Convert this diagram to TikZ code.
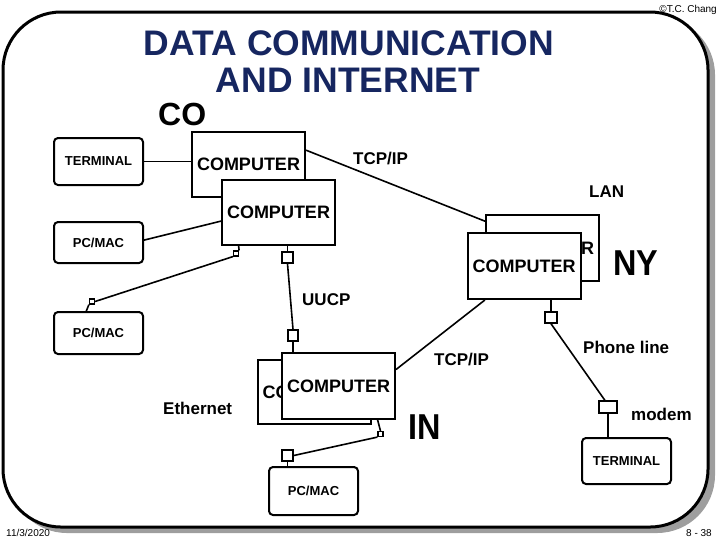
\documentclass[tikz,border=0pt]{standalone}
\usepackage{fontspec}
\setmainfont{Liberation Sans}
\usetikzlibrary{calc}
\definecolor{titleblue}{RGB}{22,38,96}
\tikzset{
	comp/.style={draw, fill=white, line width=2pt, minimum width=113pt, minimum height=65pt, inner sep=0pt, font=\fontsize{18}{20}\selectfont\bfseries},
	termbox/.style={draw, fill=white, rounded corners=4pt, line width=2pt, minimum width=89pt, inner sep=0pt, font=\fontsize{13}{15}\selectfont\bfseries},
	port/.style={draw, fill=white, line width=1.5pt, inner sep=0pt},
	lbl/.style={anchor=base west, inner sep=0pt, font=\fontsize{17}{19}\selectfont\bfseries},
	city/.style={anchor=base west, inner sep=0pt, font=\fontsize{36}{38}\selectfont\bfseries},
	wire/.style={line width=1.6pt},
	tinytext/.style={inner sep=0pt, font=\fontsize{10}{12}\selectfont}
}

\begin{document}
\begin{tikzpicture}[x=1pt, y=-1pt]
	%%%%% START %%%%%
	\useasboundingbox (0,0) rectangle (719,539);
	
	% frame with shadow
	\fill[black!38, rounded corners=58pt] (9,17) rectangle (715,533);
	\draw[line width=3pt, fill=white, rounded corners=58pt] (3,12) rectangle (708,527);
	
	\node[tinytext, anchor=base east] (copy) at (717,12) {\textcopyright T.C. Chang};
	\node[tinytext, anchor=base west] (date) at (6,536) {11/3/2020};
	\node[tinytext, anchor=base east] (page) at (712,536) {8 - 38};
	
	\node[anchor=base, inner sep=0pt, text=titleblue, font=\fontsize{35.5}{36}\selectfont\bfseries] (title1) at (349,55) {DATA COMMUNICATION};
	\node[anchor=base, inner sep=0pt, text=titleblue, font=\fontsize{35.5}{36}\selectfont\bfseries] (title2) at (348,92) {AND INTERNET};
	
	% CO site
	\node[anchor=base west, inner sep=0pt, font=\fontsize{32}{34}\selectfont\bfseries] (co) at (158,125) {CO};
	\node[termbox, minimum height=47pt] (terma) at (98.5,161.5) {TERMINAL};
	\node[comp] (coA) at (248.5,164.5) {COMPUTER};
	\node[comp] (coB) at (278.5,212) {COMPUTER};
	\node[termbox, minimum height=41pt] (pca) at (98.5,242.5) {PC/MAC};
	\node[termbox, minimum height=42pt] (pcb) at (98.5,333) {PC/MAC};
	
	% NY site
	\node[comp, minimum height=66pt] (nyA) at (542.5,248) {COMPUTER};
	\node[comp, minimum height=66pt] (nyB) at (524,266) {COMPUTER};
	\node[city] (ny) at (613,275) {\scalebox{0.9}[1]{NY}};
	
	% IN site
	\node[comp, minimum height=64pt] (inA) at (314,392) {COMPUTER};
	\node[comp, minimum height=66pt] (inB) at (338.5,386) {COMPUTER};
	\node[city] (in) at (408,439) {\scalebox{0.9}[1]{IN}};
	\node[termbox, minimum height=48pt] (pcc) at (313.5,491) {PC/MAC};
	\node[termbox, minimum height=46pt] (termb) at (626.5,461) {TERMINAL};
	
	% ports
	\node[port, minimum width=11pt, minimum height=11pt] (p1) at (287.5,257.5) {};
	\node[port, minimum width=10pt, minimum height=11pt] (p2) at (293,335.5) {};
	\node[port, minimum width=12pt, minimum height=11pt] (p3) at (551,317.5) {};
	\node[port, minimum width=18pt, minimum height=12pt] (mdm) at (608,407) {};
	\node[port, line width=1.2pt, minimum width=5pt, minimum height=5pt] (p5) at (236,253.5) {};
	\node[port, line width=1.2pt, minimum width=5pt, minimum height=5pt] (p6) at (92,301.5) {};
	\node[port, line width=1.2pt, minimum width=5pt, minimum height=5pt] (p7) at (380.5,434) {};
	\node[port, minimum width=11pt, minimum height=11pt] (p8) at (287.5,455.5) {};
	
	% links
	\draw[wire] (terma.east) -- (terma.east -| coA.west);
	\draw[wire] (coA.14) -- (nyA.155);
	\draw[wire] (coB.189) -- (pca.3);
	\draw[wire] (coB.220) -- (p5.north east);
	\draw[wire] (p5.south west) -- (p6.east);
	\draw[wire] (p6.south west) -- (pcb.119);
	\draw[wire] (p1.north) -- (p1.north |- coB.south);
	\draw[wire] (p1.south) -- (p2.north);
	\draw[wire] (p2.south) -- (p2.south |- inB.north);
	\draw[wire] (nyB.221) -- (inB.16);
	\draw[wire] (p3.north) -- (p3.north |- nyB.south);
	\draw[wire] (p3.south) -- (mdm.115);
	\draw[wire] (mdm.south) -- (mdm.south |- termb.north);
	\draw[wire] (inB.-41) -- (p7.north);
	\draw[wire] (p7.south west) -- (p8.east);
	\draw[wire] (p8.south) -- (p8.south |- pcc.north);
	
	% labels
	\node[lbl] (tcpa) at (353,164) {TCP/IP};
	\node[lbl] (lan) at (589,197) {LAN};
	\node[lbl] (uucp) at (302,305) {UUCP};
	\node[lbl] (phone) at (583,353) {Phone line};
	\node[lbl] (tcpb) at (434,365) {TCP/IP};
	\node[lbl] (ether) at (163,414) {Ethernet};
	\node[lbl] (modem) at (631,420) {modem};
	
	%%%%% END %%%%%
\end{tikzpicture}
\end{document}
